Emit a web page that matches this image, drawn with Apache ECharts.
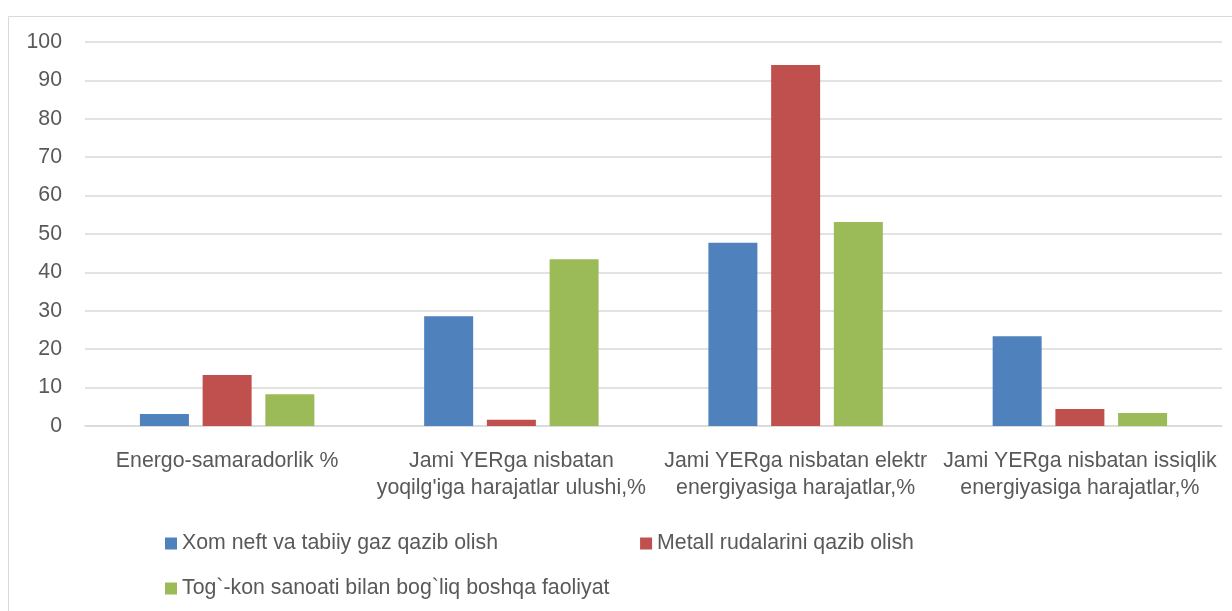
<!DOCTYPE html>
<html>
<head>
<meta charset="utf-8">
<script src="https://cdn.jsdelivr.net/npm/echarts@6/dist/echarts.min.js"></script>
<style>html,body{margin:0;padding:0;background:#fff}#c{width:1232px;height:611px}</style>
</head>
<body>
<div id="c"></div>
<script>
const categories = [
  "Energo-samaradorlik %",
  "Jami YERga nisbatan\nyoqilg'iga harajatlar ulushi,%",
  "Jami YERga nisbatan elektr\nenergiyasiga harajatlar,%",
  "Jami YERga nisbatan issiqlik\nenergiyasiga harajatlar,%"
];
const seriesNames = [
  "Xom neft va tabiiy gaz qazib olish",
  "Metall rudalarini qazib olish",
  "Tog`-kon sanoati bilan bog`liq boshqa faoliyat"
];
const neftGaz = [3.1, 28.6, 47.7, 23.4];
const metall = [13.3, 1.6, 94.0, 4.4];
const boshqa = [8.3, 43.4, 53.1, 3.4];
const colors = ["#4f81bd", "#c0504d", "#9bbb59"];
const FONT = "Liberation Sans";
const FS = 21.3;

const chart = echarts.init(document.getElementById('c'), null, {renderer: 'canvas'});
const values = [neftGaz, metall, boshqa];
chart.setOption({
  animation: false,
  textStyle: {fontFamily: FONT},
  graphic: [{
    type: 'rect', left: 6, top: 14,
    shape: {width: 1240, height: 620},
    style: {fill: 'none', stroke: '#d9d9d9', lineWidth: 1}
  }],
  grid: {left: 85, right: 10, top: 42, bottom: 185, containLabel: false},
  xAxis: {
    type: 'category', data: categories,
    axisLine: {lineStyle: {color: '#d9d9d9', width: 1.5}},
    axisTick: {show: false},
    axisLabel: {color: '#595959', fontSize: FS, lineHeight: 27, margin: 22, interval: 0}
  },
  yAxis: {
    type: 'value', min: 0, max: 100, interval: 10,
    axisLine: {show: false}, axisTick: {show: false},
    splitLine: {lineStyle: {color: '#d9d9d9', width: 1.5}},
    axisLabel: {color: '#595959', fontSize: FS, margin: 23}
  },
  legend: [{
    data: seriesNames.slice(0, 2), left: 160, top: 528,
    itemWidth: 12, itemHeight: 12, itemGap: 142, icon: 'rect',
    textStyle: {color: '#595959', fontSize: FS}
  }, {
    data: seriesNames.slice(2), left: 160, top: 573,
    itemWidth: 12, itemHeight: 12, icon: 'rect',
    textStyle: {color: '#595959', fontSize: FS}
  }],
  series: seriesNames.map((n, i) => ({
    name: n, type: 'bar', data: values[i],
    barWidth: 49, barGap: '28%',
    itemStyle: {color: colors[i]}
  }))
});
</script>
</body>
</html>
